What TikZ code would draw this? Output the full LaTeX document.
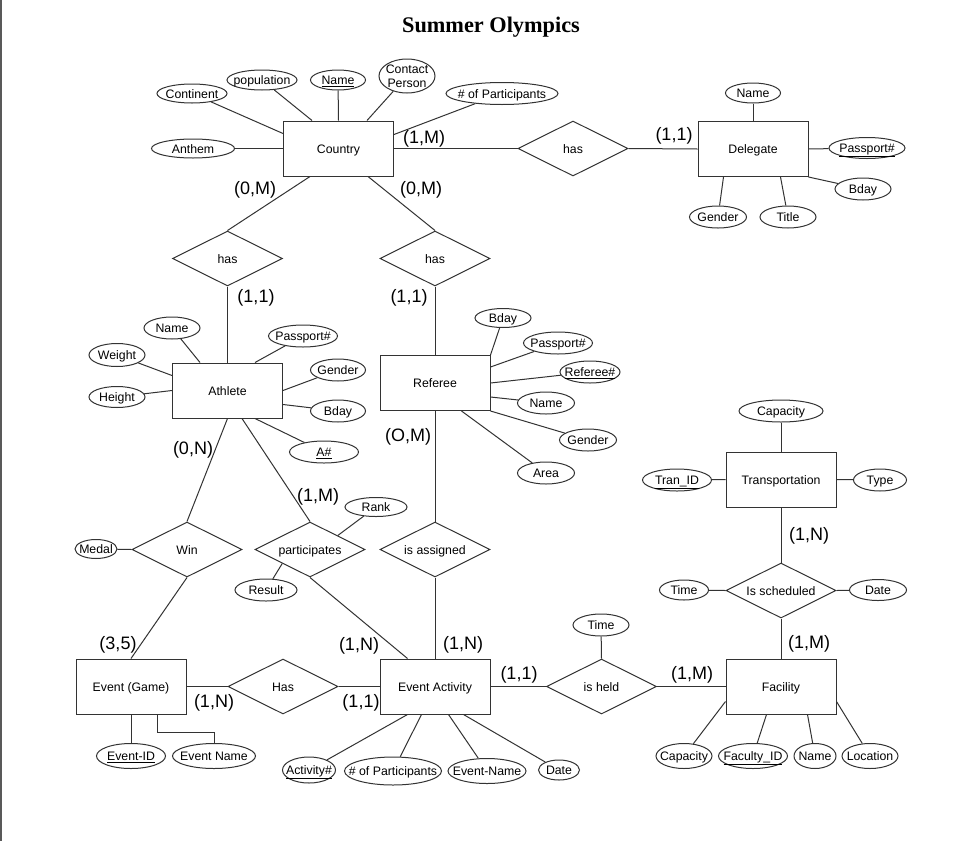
\documentclass[tikz,border=0pt]{standalone}
\usepackage{fontspec}
\setmainfont{Liberation Sans}
\newfontfamily\titlefont{Liberation Serif}
\usetikzlibrary{shapes.geometric,calc}
\newcommand{\zw}[1]{\makebox[0pt]{#1}}
\tikzset{
  txt/.style={font=\fontsize{12.3}{14}\selectfont},
  ent/.style={draw=black!80,line width=1pt,rectangle,minimum width=110pt,minimum height=55pt,inner sep=0pt,text height=9pt,text depth=0pt,txt},
  rel/.style={draw=black!80,line width=1pt,diamond,aspect=2,minimum width=110pt,minimum height=55pt,inner sep=0pt,text height=9pt,text depth=0pt,txt},
  attr/.style 2 args={draw=black!80,line width=1pt,ellipse,minimum width=#1pt,minimum height=#2pt,inner sep=0pt,text height=9pt,text depth=0pt,txt},
  card/.style={font=\fontsize{18}{20}\selectfont,inner sep=0pt},
  ln/.style={line width=1pt,draw=black!80}
}
\begin{document}
\begin{tikzpicture}[x=1pt,y=-1pt]
\useasboundingbox (0,0) rectangle (958,841);
\fill[white] (0,0) rectangle (958,841);
\draw[black!65,line width=2pt] (1,0) -- (1,841);
\node[font=\titlefont\bfseries\fontsize{22.3}{26}\selectfont] (title) at (491,27) {Summer Olympics};

% entities
\node[ent] (country) at (338.5,148.5) {Country};
\node[ent] (delegate) at (753,149) {Delegate};
\node[ent] (athlete) at (227.5,390.5) {Athlete};
\node[ent] (referee) at (435,383) {Referee};
\node[ent] (transport) at (781,479.5) {Transportation};
\node[ent] (game) at (131,686.5) {Event (Game)};
\node[ent] (activity) at (435,686.5) {Event Activity};
\node[ent] (facility) at (781,686.5) {Facility};

% relationships
\node[rel] (hasD) at (573,148.5) {\zw{has}};
\node[rel] (hasA) at (227.5,258.5) {\zw{has}};
\node[rel] (hasR) at (435,258.5) {\zw{has}};
\node[rel] (win) at (187,549.5) {\zw{Win}};
\node[rel] (part) at (310,549.5) {\zw{participates}};
\node[rel] (assign) at (435,549.5) {\zw{is assigned}};
\node[rel] (hasE) at (283,686.5) {\zw{Has}};
\node[rel] (held) at (601.5,686.5) {\zw{is held}};
\node[rel] (sched) at (781,590.5) {\zw{Is scheduled}};

% country attributes
\node[attr={70}{19}] (continent) at (192,93.5) {\zw{Continent}};
\node[attr={70}{20}] (population) at (262,80) {\zw{population}};
\node[attr={55}{20}] (cname) at (338,80) {\zw{\underline{Name}}};
\node[attr={56}{34}] (contact) at (407,76) {\zw{\begin{tabular}{@{}c@{}}Contact\\Person\end{tabular}}};
\node[attr={112}{22}] (cpart) at (502,93.5) {\zw{\# of Participants}};
\node[attr={83}{19}] (anthem) at (193,148.5) {\zw{Anthem}};

% delegate attributes
\node[attr={55}{20}] (dname) at (753,93) {\zw{Name}};
\node[attr={76}{21}] (dpass) at (867,148) {\zw{\underline{Passport\#}}};
\node[attr={56}{22}] (dbday) at (863,189) {\zw{Bday}};
\node[attr={57}{22}] (dgender) at (718,217) {\zw{Gender}};
\node[attr={56}{22}] (dtitle) at (788,217) {\zw{Title}};

% athlete attributes
\node[attr={56}{22}] (aname) at (172,328) {\zw{Name}};
\node[attr={56}{23}] (weight) at (117,355) {\zw{Weight}};
\node[attr={56}{21}] (height) at (117,397) {\zw{Height}};
\node[attr={69}{22}] (apass) at (303,336) {\zw{Passport\#}};
\node[attr={55}{22}] (agender) at (338,370) {\zw{Gender}};
\node[attr={55}{22}] (abday) at (338,411) {\zw{Bday}};
\node[attr={69}{22}] (anum) at (324,452) {\zw{\underline{A\#}}};

% referee attributes
\node[attr={56}{19}] (rbday) at (503,318) {\zw{Bday}};
\node[attr={69}{22}] (rpass) at (558,343) {\zw{Passport\#}};
\node[attr={60}{22}] (rnum) at (590,372) {\zw{\underline{Referee\#}}};
\node[attr={57}{22}] (rname) at (546,403) {\zw{Name}};
\node[attr={57}{22}] (rgender) at (588,440) {\zw{Gender}};
\node[attr={57}{22}] (rarea) at (546,473) {\zw{Area}};

% transportation attributes
\node[attr={84}{22}] (tcap) at (781,411) {\zw{Capacity}};
\node[attr={69}{22}] (tid) at (677,480) {\zw{\underline{Tran\_ID}}};
\node[attr={53}{22}] (ttype) at (880,480) {\zw{Type}};
\node[attr={49}{20}] (stime) at (684,590) {\zw{Time}};
\node[attr={57}{21}] (sdate) at (878,590) {\zw{Date}};
\node[attr={56}{22}] (htime) at (601,625) {\zw{Time}};

% facility attributes
\node[attr={56}{25}] (fcap) at (684,756) {\zw{Capacity}};
\node[attr={69}{25}] (fid) at (753,756) {\zw{\underline{Faculty\_ID}}};
\node[attr={42}{25}] (fname) at (815,756) {\zw{Name}};
\node[attr={56}{25}] (floc) at (870,756) {\zw{Location}};

% relationship attributes
\node[attr={42}{19}] (medal) at (96,549) {\zw{Medal}};
\node[attr={62}{19}] (rank) at (376,507) {\zw{Rank}};
\node[attr={62}{22}] (result) at (266,590) {\zw{Result}};

% event attributes
\node[attr={69}{25}] (gid) at (131,756) {\zw{\underline{Event-ID}}};
\node[attr={83}{25}] (gname) at (214,756) {\zw{Event Name}};
\node[attr={53}{26}] (eaid) at (309,770) {\zw{\underline{Activity\#}}};
\node[attr={97}{28}] (eapart) at (393,771) {\zw{\# of Participants}};
\node[attr={78}{25}] (eaname) at (487,771) {\zw{Event-Name}};
\node[attr={41}{20}] (eadate) at (559,770) {\zw{Date}};

% connectors: country
\draw[ln] (continent) -- ([yshift=-13pt]country.north west);
\draw[ln] (population) -- ([xshift=29pt]country.north west);
\draw[ln] (cname) -- (country.north);
\draw[ln] (contact) -- ([xshift=84pt]country.north west);
\draw[ln] (cpart) -- ([yshift=-14pt]country.north east);
\draw[ln] (anthem) -- (country.west);
\draw[ln] (country.east) -- (hasD.west);
\draw[ln] (hasD.east) -- (delegate.west);
\draw[ln] ([xshift=27pt]country.south west) -- (hasA.north);
\draw[ln] ([xshift=85pt]country.south west) -- (hasR.north);

% delegate
\draw[ln] (dname) -- (delegate.north);
\draw[ln] (dpass) -- (delegate.east);
\draw[ln] (dbday) -- (delegate.south east);
\draw[ln] (dgender) -- ([xshift=26pt]delegate.south west);
\draw[ln] (dtitle) -- ([xshift=83pt]delegate.south west);

% athlete
\draw[ln] (hasA.south) -- (athlete.north);
\draw[ln] (aname) -- ([xshift=28pt]athlete.north west);
\draw[ln] (weight) -- ([yshift=-13pt]athlete.north west);
\draw[ln] (height) -- (athlete.west);
\draw[ln] (apass) -- ([xshift=83pt]athlete.north west);
\draw[ln] (agender) -- (athlete.east);
\draw[ln] (abday) -- ([yshift=-14pt]athlete.east);
\draw[ln] (anum) -- ([xshift=83pt]athlete.south west);
\draw[ln] (athlete.south) -- (win.north);
\draw[ln] ([xshift=70pt]athlete.south west) -- (part.north);

% referee
\draw[ln] (hasR.south) -- (referee.north);
\draw[ln] (rbday) -- (referee.north east);
\draw[ln] (rpass) -- ([yshift=-12pt]referee.north east);
\draw[ln] (rnum) -- (referee.east);
\draw[ln] (rname) -- ([yshift=-14pt]referee.east);
\draw[ln] (rgender) -- (referee.south east);
\draw[ln] (rarea) -- ([xshift=-29pt]referee.south east);
\draw[ln] (referee.south) -- (assign.north);

% relationships middle
\draw[ln] (medal) -- (win.west);
\draw[ln] (rank) -- ($(part.north)!0.5!(part.east)$);
\draw[ln] (result) -- ($(part.west)!0.5!(part.south)$);
\draw[ln] (win.south) -- (game.north);
\draw[ln] (part.south) -- ([xshift=28pt]activity.north west);
\draw[ln] (assign.south) -- (activity.north);

% events
\draw[ln] (game.east) -- (hasE.west);
\draw[ln] (hasE.east) -- (activity.west);
\draw[ln] (gid) -- (game.south);
\draw[ln] ([xshift=82pt]game.south west) -- ++(0,18) -| (gname.north);
\draw[ln] (eaid) -- ([xshift=28pt]activity.south west);
\draw[ln] (eapart) -- ([xshift=42pt]activity.south west);
\draw[ln] (eaname) -- ([xshift=69pt]activity.south west);
\draw[ln] (eadate) -- ([xshift=84pt]activity.south west);
\draw[ln] (activity.east) -- (held.west);
\draw[ln] (htime) -- (held.north);
\draw[ln] (held.east) -- (facility.west);

% facility
\draw[ln] (fcap) -- ([yshift=-15pt]facility.west);
\draw[ln] (fid) -- ([xshift=41pt]facility.south west);
\draw[ln] (fname) -- ([xshift=82pt]facility.south west);
\draw[ln] (floc) -- ([yshift=-15pt]facility.east);
\draw[ln] (sched.south) -- (facility.north);

% transportation
\draw[ln] (tcap) -- (transport.north);
\draw[ln] (tid) -- (transport.west);
\draw[ln] (ttype) -- (transport.east);
\draw[ln] (transport.south) -- (sched.north);
\draw[ln] (stime) -- (sched.west);
\draw[ln] (sdate) -- (sched.east);

% cardinalities
\node[card] (k1) at (424,139) {(1,M)};
\node[card] (k2) at (674,136) {(1,1)};
\node[card] (k3) at (255,190) {(0,M)};
\node[card] (k4) at (421,190) {(0,M)};
\node[card] (k5) at (256,298) {(1,1)};
\node[card] (k6) at (409,298) {(1,1)};
\node[card] (k7) at (193,450) {(0,N)};
\node[card] (k8) at (408,437) {(O,M)};
\node[card] (k9) at (318,497) {(1,M)};
\node[card] (k10) at (118,645) {(3,5)};
\node[card] (k11) at (359,646) {(1,N)};
\node[card] (k12) at (463,645) {(1,N)};
\node[card] (k13) at (214,703) {(1,N)};
\node[card] (k14) at (361,703) {(1,1)};
\node[card] (k15) at (519,675) {(1,1)};
\node[card] (k16) at (692,675) {(1,M)};
\node[card] (k17) at (809,644) {(1,M)};
\node[card] (k18) at (809,536) {(1,N)};
\end{tikzpicture}
\end{document}
